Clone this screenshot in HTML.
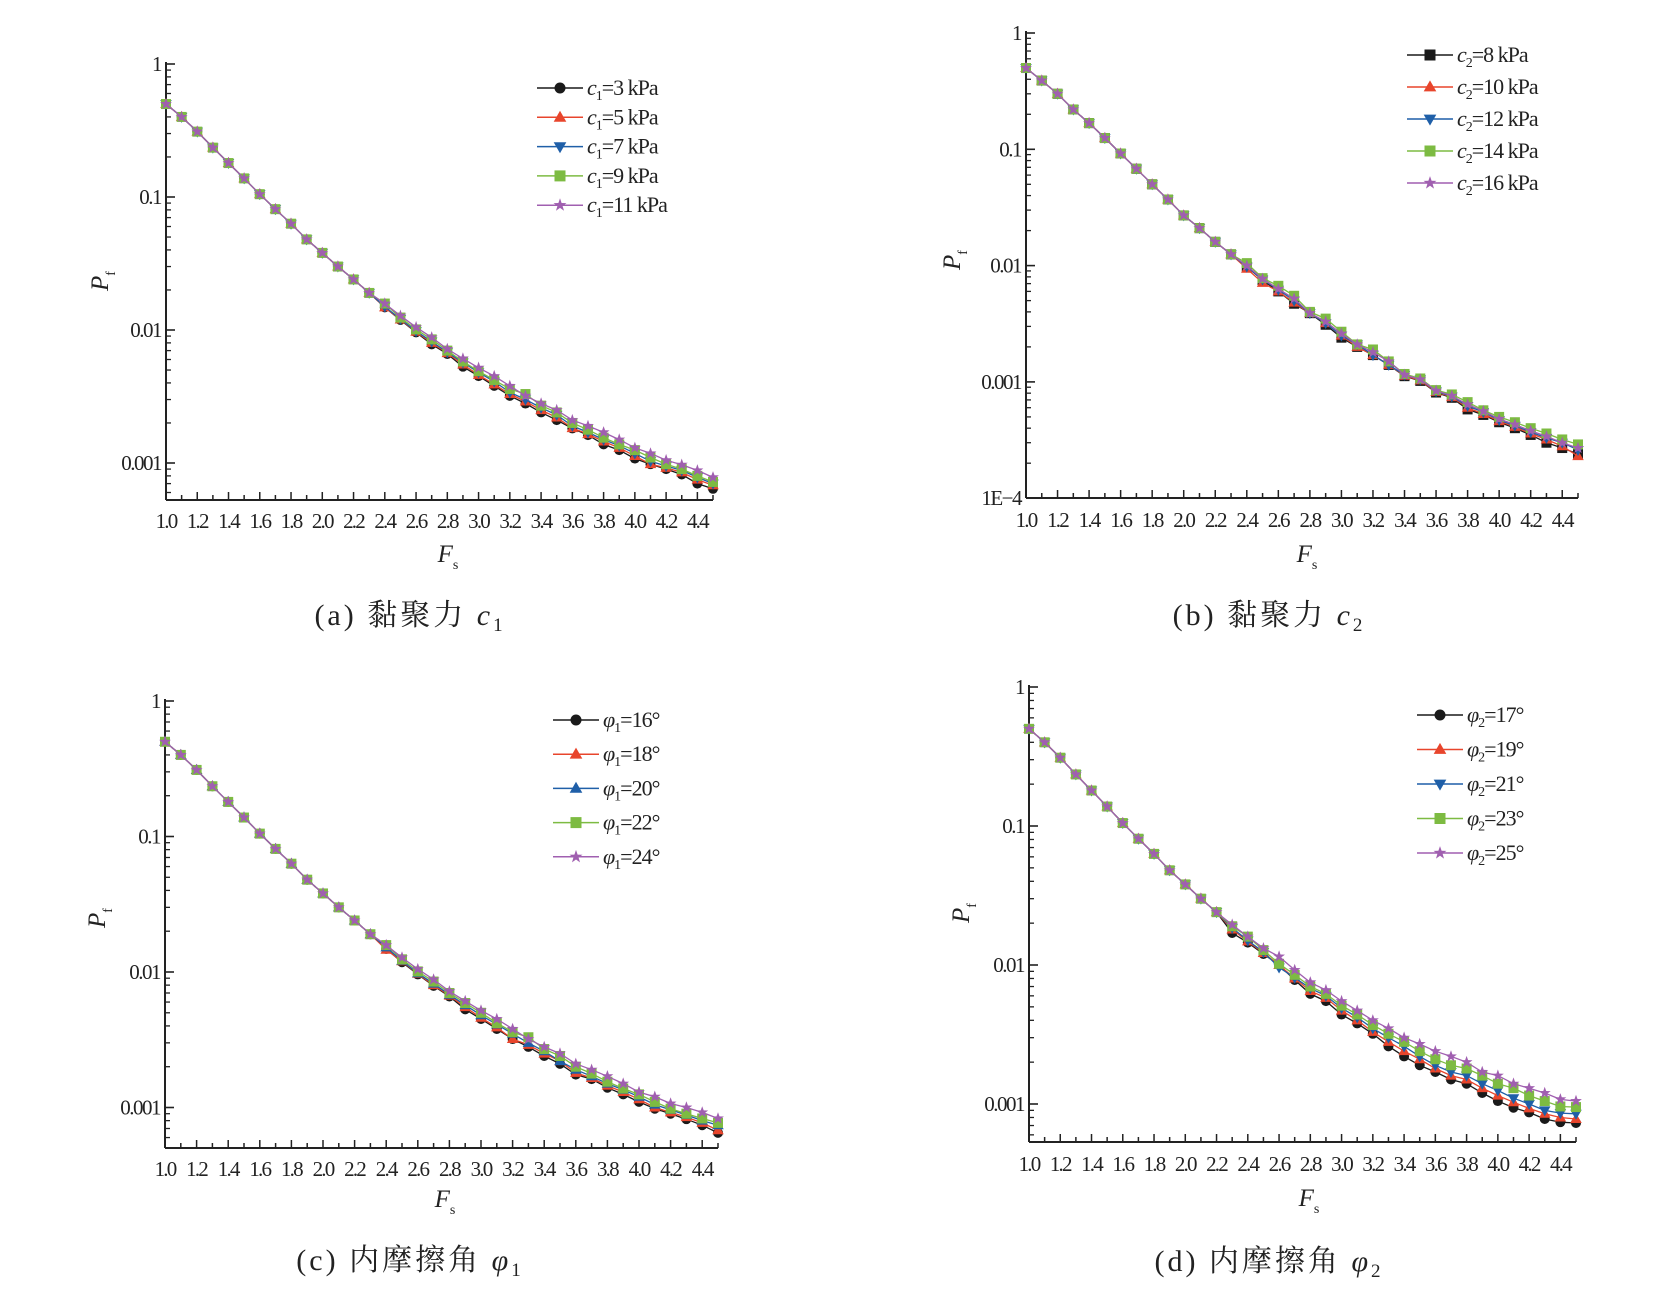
<!DOCTYPE html>
<html><head><meta charset="utf-8">
<style>
html,body{margin:0;padding:0;background:#fff;}
svg{display:block;font-family:"Liberation Serif","Noto Serif CJK SC",serif;}
</style></head>
<body>
<svg id="fig" width="1675" height="1298" viewBox="0 0 1675 1298" xmlns="http://www.w3.org/2000/svg"></svg>
<script>
// ---------- data ----------
const xValues = [1.0,1.1,1.2,1.3,1.4,1.5,1.6,1.7,1.8,1.9,2.0,2.1,2.2,2.3,2.4,2.5,2.6,2.7,2.8,2.9,3.0,3.1,3.2,3.3,3.4,3.5,3.6,3.7,3.8,3.9,4.0,4.1,4.2,4.3,4.4,4.5];
const xTickLabels = ["1.0","1.2","1.4","1.6","1.8","2.0","2.2","2.4","2.6","2.8","3.0","3.2","3.4","3.6","3.8","4.0","4.2","4.4"];
const headA = [0.5,0.4,0.31,0.235,0.18,0.138,0.105,0.081,0.063,0.048,0.038,0.030,0.024,0.019];
const headB = [0.5,0.39,0.30,0.22,0.168,0.125,0.092,0.068,0.050,0.037,0.027,0.021,0.016,0.0125];

const aNames = ["c1=3 kPa","c1=5 kPa","c1=7 kPa","c1=9 kPa","c1=11 kPa"];
const aS1 = headA.concat([0.0148,0.0119,0.0096,0.0078,0.0066,0.0053,0.0045,0.0038,0.0032,0.0028,0.0024,0.0021,0.00182,0.00162,0.00138,0.00125,0.00108,0.00098,0.0009,0.00082,0.0007,0.00064]);
const aS2 = headA.concat([0.0148,0.012,0.0097,0.008,0.0067,0.0055,0.0046,0.0039,0.0033,0.0029,0.0025,0.0022,0.00183,0.00165,0.00145,0.0013,0.00113,0.00098,0.00092,0.00085,0.00075,0.00068]);
const aS3 = headA.concat([0.015,0.0121,0.0098,0.0082,0.0068,0.0057,0.0048,0.0041,0.0034,0.003,0.0026,0.0023,0.0019,0.0017,0.0015,0.00135,0.00118,0.00103,0.00095,0.00088,0.00078,0.0007]);
const aS4 = headA.concat([0.0158,0.0124,0.0101,0.0085,0.007,0.0058,0.0049,0.0042,0.0036,0.0033,0.0027,0.0024,0.002,0.00178,0.00155,0.00138,0.00125,0.0011,0.00098,0.0009,0.0008,0.00072]);
const aS5 = headA.concat([0.0158,0.0128,0.0105,0.0088,0.0072,0.0061,0.0052,0.0045,0.0038,0.0032,0.0028,0.0025,0.0021,0.0019,0.0017,0.0015,0.0013,0.00118,0.00105,0.00097,0.00088,0.00078]);

const bNames = ["c2=8 kPa","c2=10 kPa","c2=12 kPa","c2=14 kPa","c2=16 kPa"];
const bS1 = headB.concat([0.0098,0.0075,0.006,0.0047,0.0039,0.0031,0.0024,0.002,0.0017,0.0014,0.00112,0.00102,0.00081,0.00073,0.00058,0.00052,0.00045,0.0004,0.00035,0.0003,0.00027,0.00024]);
const bS2 = headB.concat([0.0094,0.0071,0.006,0.0048,0.0039,0.0032,0.0025,0.002,0.0017,0.0014,0.00113,0.00103,0.00082,0.00074,0.0006,0.00053,0.00046,0.00041,0.00036,0.00032,0.00028,0.00023]);
const bS3 = headB.concat([0.0098,0.0076,0.0062,0.005,0.0039,0.0032,0.0025,0.0021,0.0017,0.0014,0.00115,0.00105,0.00083,0.00075,0.00062,0.00055,0.00047,0.00042,0.00037,0.00033,0.0003,0.00026]);
const bS4 = headB.concat([0.0105,0.0078,0.0067,0.0055,0.004,0.0035,0.0027,0.0021,0.0019,0.0015,0.00117,0.00107,0.00085,0.00078,0.00067,0.00057,0.0005,0.00045,0.0004,0.00036,0.00032,0.00029]);
const bS5 = headB.concat([0.01,0.0077,0.0063,0.0052,0.0039,0.0033,0.0026,0.0021,0.0018,0.0015,0.00115,0.00105,0.00084,0.00076,0.00064,0.00056,0.00048,0.00043,0.00038,0.00034,0.0003,0.00027]);

const cNames = ["φ1=16°","φ1=18°","φ1=20°","φ1=22°","φ1=24°"];
const cS1 = headA.concat([0.0148,0.0118,0.0096,0.0079,0.0066,0.0053,0.0045,0.0038,0.0032,0.0028,0.0024,0.0021,0.00175,0.00162,0.0014,0.00125,0.0011,0.00098,0.0009,0.00082,0.00074,0.00065]);
const cS2 = headA.concat([0.0146,0.012,0.0097,0.008,0.0067,0.0055,0.0046,0.0039,0.0032,0.0029,0.0025,0.0022,0.0018,0.00165,0.00145,0.0013,0.00115,0.001,0.00092,0.00085,0.00077,0.00068]);
const cS3 = headA.concat([0.0152,0.0121,0.0098,0.0082,0.0068,0.0057,0.0048,0.0041,0.0035,0.003,0.0026,0.0022,0.0019,0.0017,0.0015,0.00135,0.0012,0.00105,0.00096,0.00088,0.0008,0.00074]);
const cS4 = headA.concat([0.0158,0.0124,0.0101,0.0085,0.007,0.0059,0.005,0.0042,0.0036,0.0033,0.0027,0.0024,0.002,0.00178,0.00155,0.00138,0.00125,0.0011,0.00098,0.0009,0.00083,0.00077]);
const cS5 = headA.concat([0.0158,0.0128,0.0105,0.0088,0.0072,0.0061,0.0052,0.0045,0.0038,0.0032,0.0028,0.0025,0.0021,0.0019,0.0017,0.0015,0.0013,0.0012,0.00107,0.001,0.00092,0.00083]);

const dNames = ["φ2=17°","φ2=19°","φ2=21°","φ2=23°","φ2=25°"];
const dS1 = headA.slice(0,13).concat([0.017,0.0145,0.012,0.01,0.0078,0.0062,0.0055,0.0044,0.0038,0.0032,0.0026,0.0022,0.0019,0.0017,0.0015,0.0014,0.0012,0.00105,0.00094,0.00087,0.00078,0.00074,0.00073]);
const dS2 = headA.slice(0,13).concat([0.018,0.0148,0.0122,0.0100,0.008,0.0065,0.0058,0.0047,0.004,0.0033,0.0028,0.0024,0.0021,0.0018,0.0016,0.0015,0.0013,0.00115,0.00103,0.00093,0.00085,0.0008,0.00078]);
const dS3 = headA.slice(0,13).concat([0.0185,0.015,0.0124,0.0096,0.0081,0.0068,0.006,0.0049,0.0042,0.0035,0.003,0.0026,0.0022,0.0019,0.0017,0.0016,0.0014,0.00125,0.0011,0.001,0.0009,0.00086,0.00085]);
const dS4 = headA.slice(0,13).concat([0.019,0.016,0.0128,0.0102,0.0085,0.007,0.0062,0.0051,0.0044,0.0037,0.0032,0.0028,0.0024,0.0021,0.0019,0.0018,0.0016,0.0014,0.0013,0.00115,0.00105,0.00096,0.00095]);
const dS5 = headA.slice(0,13).concat([0.0195,0.016,0.0132,0.0115,0.0092,0.0075,0.0066,0.0055,0.0047,0.004,0.0035,0.003,0.0027,0.0024,0.0022,0.002,0.0017,0.0016,0.0014,0.0013,0.0012,0.00108,0.00105]);

// ---------- drawing ----------
const NS="http://www.w3.org/2000/svg";
const svg=document.getElementById('fig');
const colors=["#1a1a1a","#e8452c","#1f5fa8","#7dbb42","#a05fb0"];
function el(tag,attrs,parent){const e=document.createElementNS(NS,tag);for(const k in attrs)e.setAttribute(k,attrs[k]);(parent||svg).appendChild(e);return e;}

function marker(g,type,cx,cy,color,r){
  let m;
  if(type==='circle') m=el('circle',{cx:cx,cy:cy,r:r,fill:color},g);
  else if(type==='square') m=el('rect',{x:cx-r,y:cy-r,width:2*r,height:2*r,fill:color},g);
  else if(type==='up') m=el('polygon',{points:`${cx},${cy-r*1.2} ${cx-r*1.15},${cy+r*0.8} ${cx+r*1.15},${cy+r*0.8}`,fill:color},g);
  else if(type==='down') m=el('polygon',{points:`${cx},${cy+r*1.2} ${cx-r*1.15},${cy-r*0.8} ${cx+r*1.15},${cy-r*0.8}`,fill:color},g);
  else {let p=[];for(let i=0;i<10;i++){const a=-Math.PI/2+i*Math.PI/5;const rr=i%2?r*0.5:r*1.25;p.push((cx+rr*Math.cos(a)).toFixed(1)+','+(cy+rr*Math.sin(a)).toFixed(1));}
    m=el('polygon',{points:p.join(' '),fill:color},g);}
  return m;
}

function panel(cfg){
  const g=el('g',{});
  
  
  const x0=cfg.x0,x1=cfg.x1,yTop=cfg.yTop,dec=cfg.dec,yBot=cfg.yBot;
  const xs=v=>x0+(v-1.0)/(3.5)*(x1-x0);
  const ys=v=>yTop+(-Math.log10(v))*dec;
  const ax=el('g',{},g);
  
  
  el('line',{x1:x0,y1:yTop-2,x2:x0,y2:yBot,stroke:'#222','stroke-width':2},ax);
  el('line',{x1:x0,y1:yBot,x2:x1,y2:yBot,stroke:'#222','stroke-width':2},ax);
  for(let d=0;d<=cfg.decades;d++){
    const base=Math.pow(10,-d);
    const y=ys(base);
    el('line',{x1:x0,y1:y,x2:x0+9,y2:y,stroke:'#222','stroke-width':1.6},ax);
    const t=el('text',{x:x0-5,y:y+7,'text-anchor':'end','font-size':21,fill:'#222','letter-spacing':'-1.5'},ax);
    t.textContent=cfg.yLabels[d];
    
    
    for(let k=2;k<=9;k++){const v=base/10*k;const yy=ys(v);
      if(yy<=yBot) el('line',{x1:x0,y1:yy,x2:x0+5,y2:yy,stroke:'#222','stroke-width':1.3},ax);}
  }
  for(let i=0;i<=35;i++){const v=1+i*0.1;const x=xs(v);const major=i%2===0;
    el('line',{x1:x,y1:yBot,x2:x,y2:yBot-(major?8:5),stroke:'#222','stroke-width':1.5},ax);}
  xTickLabels.forEach(s=>{const t=el('text',{x:xs(parseFloat(s)),y:cfg.xLabY,'text-anchor':'middle','font-size':21,fill:'#222','letter-spacing':'-1.8'},ax);
    t.textContent=s;
    
    });
  const xt=el('text',{x:cfg.fsX,y:cfg.fsY,'text-anchor':'middle','font-size':25,'font-style':'italic',fill:'#222'},g);
  xt.innerHTML='F<tspan font-size="14" font-style="normal" dy="7">s</tspan>';
  
  
  const yt=el('text',{x:0,y:0,'text-anchor':'middle','font-size':25,'font-style':'italic',fill:'#222',transform:`translate(${cfg.pfX},${cfg.pfY}) rotate(-90)`},g);
  yt.innerHTML='P<tspan font-size="14" font-style="normal" dy="7">f</tspan>';
  
  
  cfg.series.forEach((data,si)=>{
    const sg=el('g',{},g);
    
    
    const pts=data.map((v,i)=>xs(xValues[i]).toFixed(1)+','+ys(v).toFixed(1)).join(' ');
    el('polyline',{points:pts,fill:'none',stroke:colors[si],'stroke-width':1.3},sg);
    data.forEach((v,i)=>{const m=marker(sg,cfg.markers[si],xs(xValues[i]),ys(v),colors[si],5);
      
      });
  });
  const lg=el('g',{},g);
  
  
  cfg.names.forEach((n,i)=>{
    const y=cfg.legY+i*cfg.legDy;
    const e=el('g',{},lg);
    
    
    el('line',{x1:cfg.legX,y1:y,x2:cfg.legX+46,y2:y,stroke:colors[i],'stroke-width':1.5},e);
    marker(e,cfg.markers[i],cfg.legX+23,y,colors[i],5.5);
    const t=el('text',{x:cfg.legX+50,y:y+7,'font-size':22,fill:'#222','letter-spacing':'-1'},e);
    const sym=n.slice(0,1),sub=n.slice(1,2),rest=n.slice(2);
    t.innerHTML=`<tspan font-style="italic">${sym}</tspan><tspan font-size="14" dy="5">${sub}</tspan><tspan dy="-5">${rest}</tspan>`;
  });
  const c=el('text',{x:cfg.capX,y:cfg.capY,'text-anchor':'middle','font-size':30,fill:'#222','letter-spacing':'3'},g);
  c.innerHTML=cfg.caption+`<tspan font-style="italic" font-family="Liberation Serif,serif">${cfg.capSym}</tspan><tspan font-size="19" dy="6">${cfg.capSub}</tspan>`;
  
  
}

const lab4=["1","0.1","0.01","0.001"];
panel({id:'panel-a',x0:166,x1:713,yTop:64,dec:133,yBot:500,decades:3,yLabels:lab4,xLabY:528,fsX:448,fsY:562,pfX:108,pfY:281,
  series:[aS1,aS2,aS3,aS4,aS5],names:aNames,markers:['circle','up','down','square','star'],legX:537,legY:88,legDy:29.3,
  capX:410,capY:625,caption:'(a) 黏聚力 ',capSym:'c',capSub:'1'});
panel({id:'panel-b',x0:1026,x1:1578,yTop:33,dec:116.3,yBot:498,decades:4,yLabels:["1","0.1","0.01","0.001","1E−4"],xLabY:527,fsX:1307,fsY:562,pfX:960,pfY:260,
  series:[bS1,bS2,bS3,bS4,bS5],names:bNames,markers:['square','up','down','square','star'],legX:1407,legY:55,legDy:32,
  capX:1269,capY:625,caption:'(b) 黏聚力 ',capSym:'c',capSub:'2'});
panel({id:'panel-c',x0:165,x1:718,yTop:701,dec:135.5,yBot:1148,decades:3,yLabels:lab4,xLabY:1176,fsX:445,fsY:1207,pfX:105,pfY:918,
  series:[cS1,cS2,cS3,cS4,cS5],names:cNames,markers:['circle','up','up','square','star'],legX:553,legY:720,legDy:34.2,
  capX:410,capY:1270,caption:'(c) 内摩擦角 ',capSym:'φ',capSub:'1'});
panel({id:'panel-d',x0:1029,x1:1576,yTop:687,dec:139,yBot:1142,decades:3,yLabels:lab4,xLabY:1171,fsX:1309,fsY:1206,pfX:969,pfY:913,
  series:[dS1,dS2,dS3,dS4,dS5],names:dNames,markers:['circle','up','down','square','star'],legX:1417,legY:715,legDy:34.5,
  capX:1269,capY:1271,caption:'(d) 内摩擦角 ',capSym:'φ',capSub:'2'});
</script>
</body></html>
